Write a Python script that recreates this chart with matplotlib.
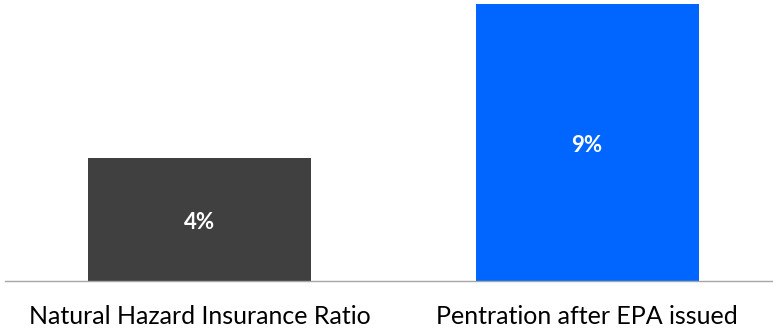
import matplotlib
matplotlib.use("Agg")
import matplotlib.pyplot as plt
from matplotlib.transforms import offset_copy

categories = ["Natural Hazard Insurance Ratio", "Pentration after EPA issued"]
values = [4, 9]
value_labels = ["4%", "9%"]
colors = ["#404040", "#0066FF"]

W, H = 773, 329
fig = plt.figure(figsize=(W / 100, H / 100), dpi=100)
ax = fig.add_axes([5 / W, (H - 281) / H, (772 - 5) / W, 281 / H])

x = list(range(len(categories)))
bars = ax.bar(x, values, width=0.575, color=colors, zorder=2)
ax.set_xlim(-0.502, 1.477)
ax.set_ylim(0, 9 * 281 / 277)

tr = offset_copy(ax.transData, fig=fig, x=0, y=-3, units="dots")
for b, lab in zip(bars, value_labels):
    ax.text(b.get_x() + b.get_width() / 2, b.get_height() / 2, lab,
            ha="center", va="center", color="white", fontsize=16,
            fontweight="bold", family="Lato", transform=tr)

for s in ["top", "right", "left"]:
    ax.spines[s].set_visible(False)
ax.spines["bottom"].set_color("#a6a6a6")
ax.spines["bottom"].set_linewidth(1.0)
ax.set_yticks([])
ax.set_xticks(x)
ax.set_xticklabels(categories, fontsize=18, family="Lato", color="black")
ax.tick_params(axis="x", length=0, pad=17)

fig.savefig("out.png", dpi=100)
